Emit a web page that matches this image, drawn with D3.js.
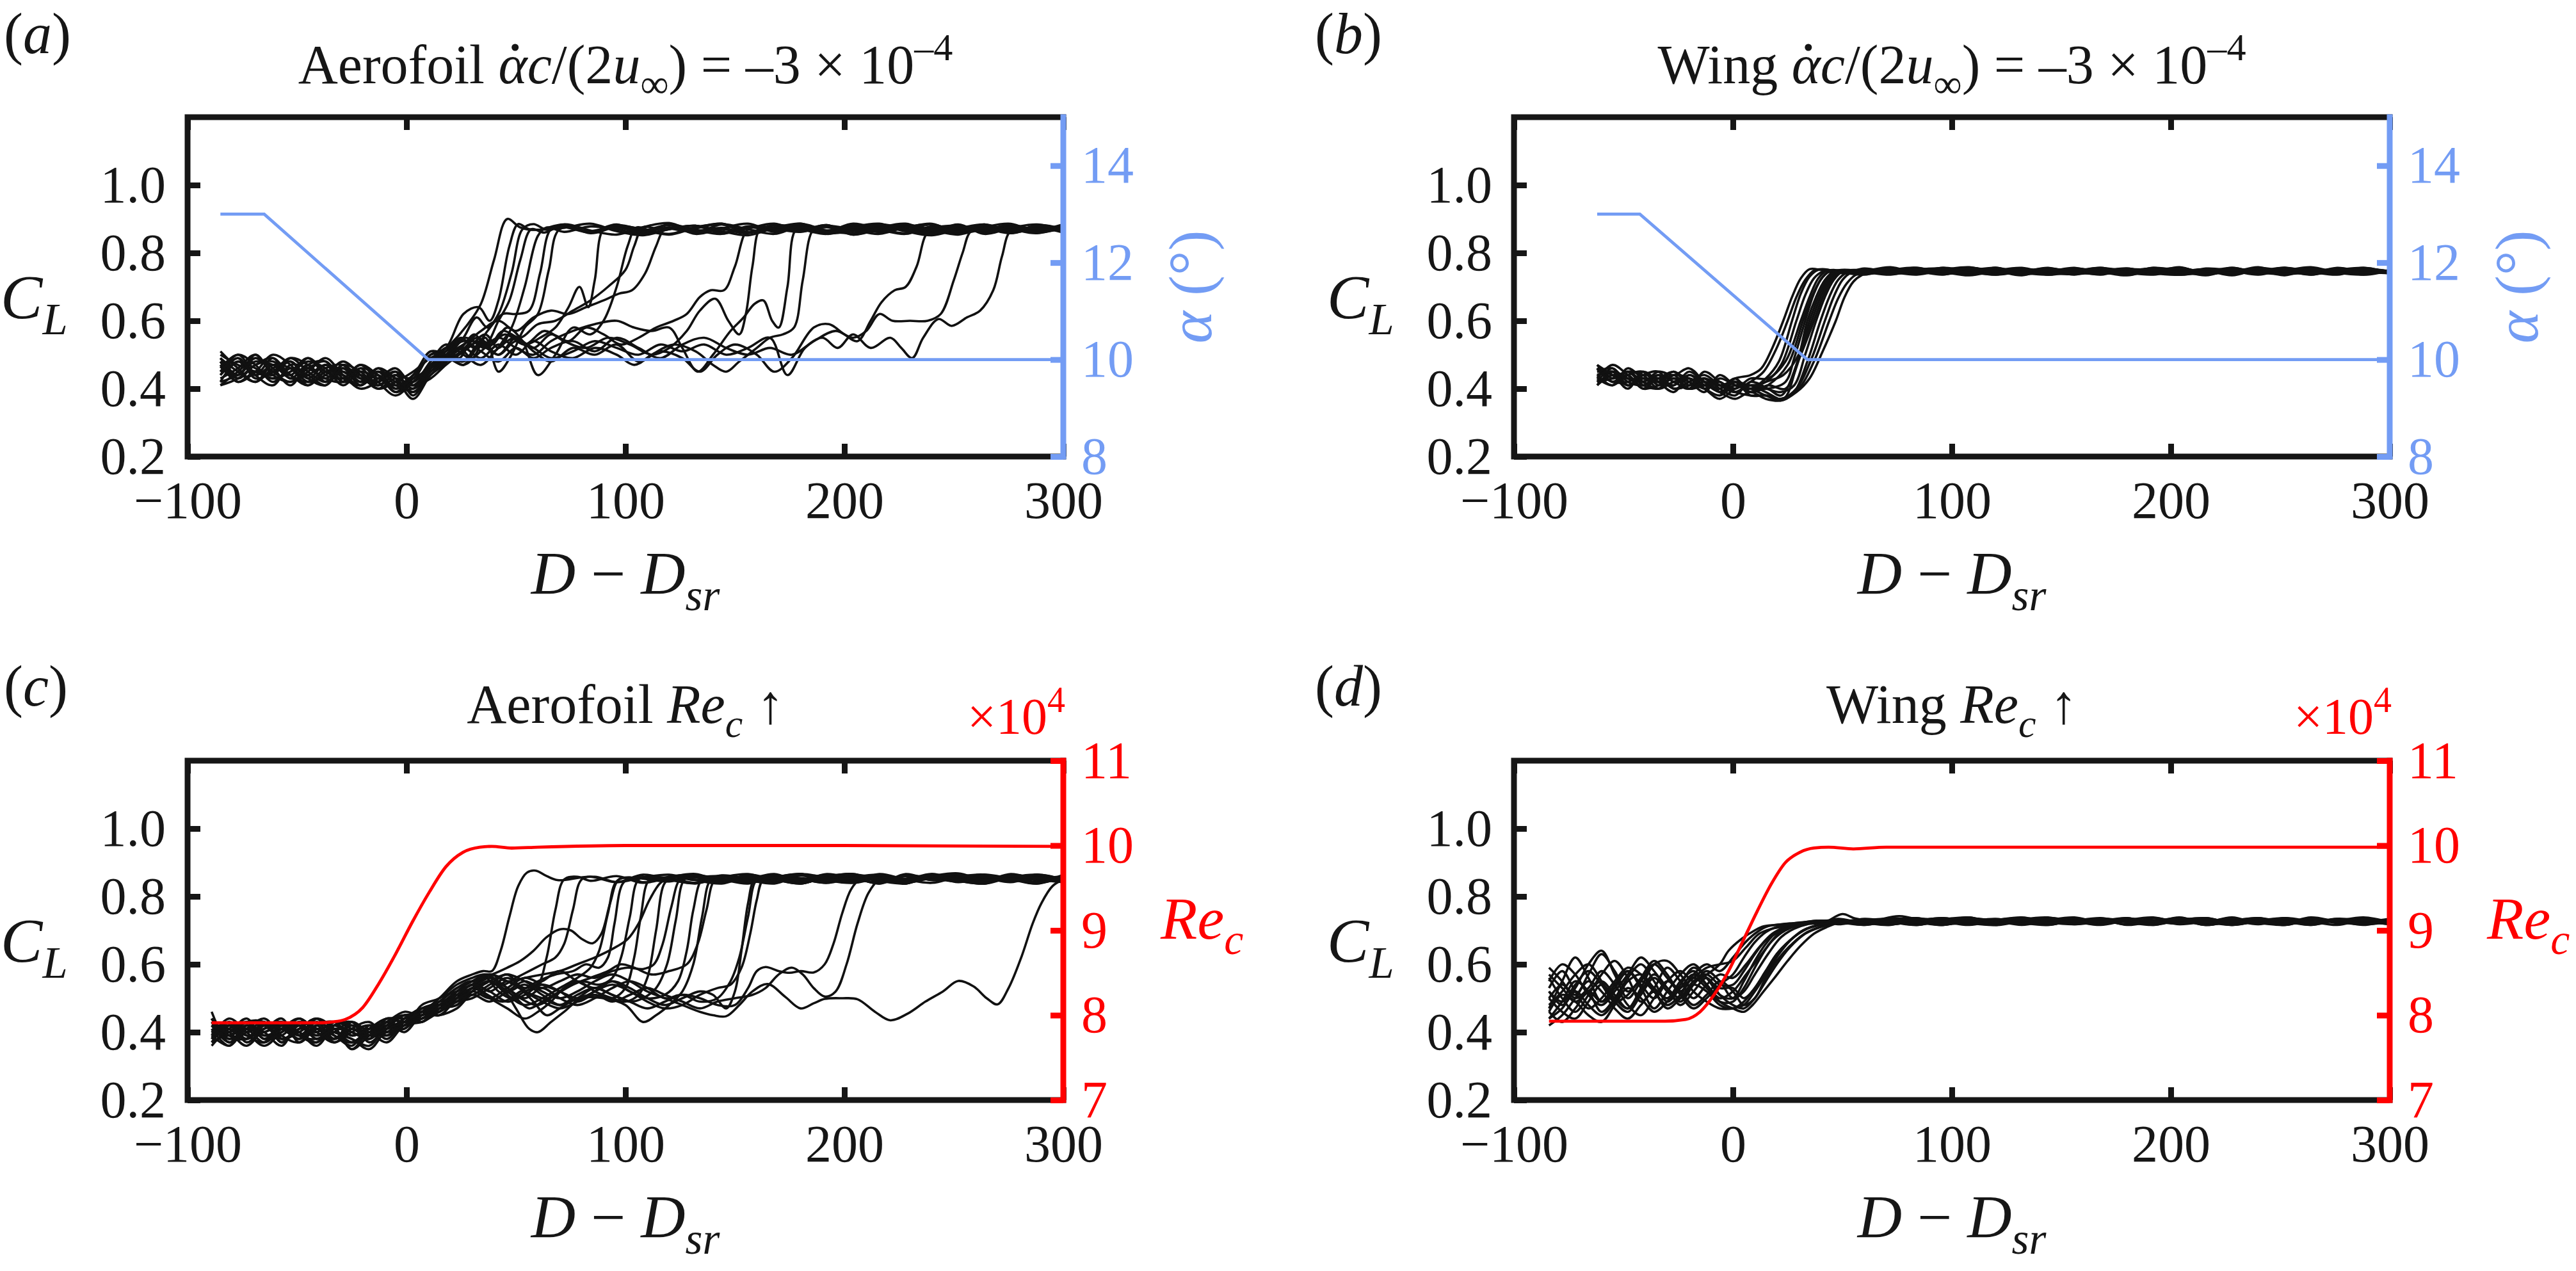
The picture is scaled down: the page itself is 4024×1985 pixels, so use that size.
<!DOCTYPE html>
<html>
<head>
<meta charset="utf-8">
<script src="https://cdn.jsdelivr.net/npm/d3@7"></script>
<style>
  body { margin: 0; background: #fff; }
  svg { display: block; }
</style>
</head>
<body>
<svg id="fig" width="4024" height="1985"></svg>
<script>
// ---- Axis ticks ----
const xTicks = [-100, 0, 100, 200, 300];
const clTicks = [0.2, 0.4, 0.6, 0.8, 1.0];
const alphaTicks = [8, 10, 12, 14];
const reTicks = [7, 8, 9, 10, 11];

// plateau sample positions (values per run are right-aligned to this list)
const platX = [12, 24, 36, 48, 60, 72, 84, 96, 108, 120, 132, 144, 156, 168, 180, 192, 204, 216, 228, 240, 252, 264, 276, 288, 300];

// ---- (a) Aerofoil, pitch-down : CL runs ----
const preXA = [-85, -77, -69, -61, -53, -45, -37, -29, -21, -13, -5, 3, 11];
const clAerofoilPitch = [
  {pre: [.49,.44,.50,.45,.48,.43,.47,.42,.46,.41,.44,.40,.48], rise: [[20,.53],[28,.59],[34,.65],[40,.78],[46,.90],[52,.875]],
   plat: [.868,.884,.858,.876,.866,.882,.856,.872,.886,.862,.874,.858,.88,.868,.856,.878,.864,.884,.86,.872,.866]},
  {pre: [.42,.48,.44,.49,.43,.47,.42,.46,.41,.45,.40,.43,.50], rise: [[18,.52],[26,.62],[33,.64],[38,.60],[42,.66],[47,.82],[51,.885],[56,.87]],
   plat: [.858,.874,.886,.864,.852,.87,.88,.86,.876,.866,.884,.856,.872,.862,.882,.868,.854,.876,.886,.862,.874]},
  {pre: [.51,.46,.42,.47,.44,.49,.45,.43,.47,.42,.38,.42,.46], rise: [[19,.50],[26,.55],[32,.61],[37,.58],[42,.62],[48,.74],[53,.87],[58,.885],[64,.868]],
   plat: [.878,.862,.884,.856,.87,.88,.864,.852,.874,.886,.866,.858,.878,.87,.862,.884,.856,.872,.868,.88]},
  {pre: [.45,.50,.47,.42,.46,.44,.41,.47,.43,.45,.42,.39,.45], rise: [[18,.49],[25,.52],[31,.56],[36,.53],[42,.60],[47,.66],[52,.78],[57,.87],[63,.86]],
   plat: [.884,.866,.854,.876,.888,.862,.87,.858,.882,.872,.86,.876,.884,.864,.852,.87,.88,.866,.874,.86]},
  {pre: [.41,.45,.49,.46,.41,.47,.48,.43,.41,.44,.39,.44,.49], rise: [[17,.48],[24,.50],[30,.53],[36,.56],[42,.52],[48,.58],[54,.70],[60,.85],[64,.875]],
   plat: [.862,.878,.87,.856,.884,.866,.874,.86,.882,.87,.856,.876,.886,.864,.872,.858,.88,.868,.862,.878]},
  {pre: [.47,.42,.45,.50,.47,.42,.44,.48,.44,.40,.43,.41,.47], rise: [[18,.51],[25,.55],[31,.52],[37,.57],[44,.62],[50,.62],[56,.63],[61,.74],[66,.87]],
   plat: [.876,.86,.882,.868,.854,.874,.886,.862,.87,.88,.858,.866,.884,.872,.856,.878,.864,.882,.868,.874]},
  {pre: [.44,.49,.43,.45,.49,.45,.42,.45,.42,.46,.43,.37,.44], rise: [[17,.47],[24,.52],[30,.49],[36,.55],[42,.45],[48,.50],[54,.58],[60,.62],[65,.75],[70,.87]],
   plat: [.864,.88,.87,.856,.876,.884,.86,.872,.866,.882,.854,.874,.886,.862,.87,.878,.858,.876,.866]},
  {pre: [.50,.47,.45,.43,.45,.48,.46,.41,.45,.43,.41,.44,.51], rise: [[18,.50],[26,.48],[33,.53],[40,.51],[47,.56],[54,.53],[61,.55],[68,.58],[74,.64],[79,.70],[83,.64],[86,.72],[90,.87],[96,.875]],
   plat: [.862,.884,.868,.856,.878,.87,.886,.86,.874,.864,.88,.856,.872,.884,.866,.876,.862]},
  {pre: [.43,.46,.50,.44,.42,.45,.49,.44,.40,.42,.45,.38,.46], rise: [[18,.52],[24,.49],[30,.54],[37,.52],[44,.57],[52,.55],[60,.59],[68,.60],[76,.63],[84,.66],[92,.70],[100,.75],[104,.82],[108,.875],[116,.87]],
   plat: [.88,.858,.872,.886,.864,.876,.854,.87,.882,.866,.878,.86,.874,.884,.868]},
  {pre: [.48,.43,.47,.48,.44,.41,.45,.46,.43,.41,.44,.40,.45], rise: [[18,.48],[25,.51],[32,.55],[39,.53],[46,.58],[53,.54],[60,.44],[68,.50],[76,.58],[84,.56],[90,.60],[96,.70],[101,.82],[105,.875],[112,.866]],
   plat: [.876,.86,.884,.87,.856,.878,.866,.882,.862,.874,.886,.858,.87,.88,.864,.876]},
  {pre: [.46,.50,.44,.41,.47,.46,.43,.42,.46,.44,.39,.42,.47], rise: [[18,.50],[26,.53],[34,.57],[42,.60],[50,.57],[58,.61],[66,.63],[74,.62],[82,.64],[90,.66],[97,.68],[103,.69],[109,.74],[114,.82],[118,.87],[126,.866]],
   plat: [.872,.886,.86,.876,.866,.882,.856,.874,.868,.884,.862,.878,.87,.858,.88]},
  {pre: [.42,.44,.48,.47,.43,.44,.47,.45,.42,.43,.46,.41,.43], rise: [[18,.47],[26,.51],[34,.54],[42,.50],[50,.55],[58,.52],[66,.56],[74,.54],[82,.58],[90,.56],[98,.53],[106,.55],[114,.58],[122,.60],[128,.62],[134,.67],[139,.69],[145,.69],[150,.76],[156,.87],[164,.874]],
   plat: [.862,.88,.868,.856,.876,.884,.864,.872,.858,.882,.87]},
  {pre: [.49,.45,.42,.46,.48,.43,.41,.46,.44,.40,.42,.45,.49], rise: [[18,.51],[27,.55],[36,.52],[45,.56],[54,.53],[63,.57],[72,.54],[82,.52],[92,.55],[102,.53],[112,.50],[120,.52],[128,.57],[134,.63],[141,.665],[147,.60],[152,.56],[155,.62],[158,.76],[162,.875],[170,.868]],
   plat: [.878,.864,.886,.87,.858,.874,.88,.862,.876,.868,.884]},
  {pre: [.44,.48,.46,.43,.45,.49,.44,.43,.47,.44,.40,.43,.46], rise: [[18,.49],[26,.47],[34,.51],[42,.55],[50,.52],[58,.50],[66,.54],[76,.57],[86,.59],[96,.60],[104,.58],[112,.57],[120,.58],[126,.52],[133,.45],[140,.50],[148,.57],[154,.61],[159,.65],[163,.66],[167,.60],[170,.58],[174,.70],[178,.87],[184,.872]],
   plat: [.86,.876,.866,.884,.858,.872,.88,.864,.874,.862]},
  {pre: [.41,.43,.47,.49,.44,.42,.46,.47,.42,.45,.43,.39,.44], rise: [[18,.48],[26,.52],[34,.49],[42,.53],[50,.50],[58,.54],[66,.51],[76,.49],[86,.52],[96,.50],[104,.47],[112,.50],[122,.53],[132,.51],[140,.47],[146,.45],[152,.48],[160,.52],[166,.55],[172,.56],[177,.58],[181,.72],[186,.87],[192,.876]],
   plat: [.864,.882,.87,.856,.878,.866,.884,.86,.874]},
  {pre: [.47,.44,.49,.45,.42,.46,.48,.42,.44,.42,.45,.42,.48], rise: [[18,.53],[26,.50],[34,.47],[42,.52],[50,.55],[58,.51],[66,.48],[76,.52],[86,.50],[96,.53],[106,.48],[116,.51],[126,.49],[134,.45],[142,.50],[150,.53],[160,.50],[168,.45],[176,.49],[186,.58],[193,.59],[200,.56],[206,.54],[212,.60],[217,.655],[223,.69],[228,.70],[233,.76],[238,.86],[244,.872]],
   plat: [.862,.88,.868,.876,.864]},
  {pre: [.45,.49,.44,.47,.46,.41,.45,.44,.41,.46,.41,.40,.46], rise: [[18,.50],[26,.54],[34,.51],[42,.48],[50,.52],[58,.49],[66,.52],[76,.54],[86,.51],[96,.55],[106,.52],[116,.49],[126,.53],[136,.55],[146,.52],[156,.50],[166,.52],[176,.50],[186,.54],[196,.57],[204,.55],[210,.57],[216,.62],[222,.60],[230,.60],[238,.60],[244,.62],[250,.72],[254,.80],[258,.865],[266,.872]],
   plat: [.864,.878,.868]},
  {pre: [.48,.42,.45,.44,.49,.47,.43,.47,.45,.41,.44,.43,.50], rise: [[18,.50],[26,.47],[34,.53],[42,.50],[50,.54],[58,.52],[66,.49],[76,.51],[86,.54],[96,.52],[106,.50],[116,.53],[126,.51],[136,.53],[146,.50],[156,.52],[166,.55],[174,.44],[182,.52],[190,.55],[197,.52],[204,.56],[212,.52],[221,.55],[226,.52],[231,.49],[236,.55],[243,.605],[249,.585],[256,.61],[262,.63],[268,.69],[272,.79],[276,.865],[284,.872]],
   plat: [.866]}
];
const alphaAerofoil = [[-85, 13], [-65, 13], [10, 10], [300, 10]];

// ---- (b) Wing, pitch-down : CL runs ----
const preXB = [-62, -55, -48, -41, -34, -27, -20, -13, -6, 1, 8];
const clWingPitch = [
  {pre: [.46,.42,.44,.40,.43,.41,.45,.42,.40,.43,.44], rise: [[13,.46],[18,.52],[23,.60],[27,.67],[31,.725],[35,.752],[40,.75],[46,.742]],
   plat: [.75,.738,.754,.744,.734,.748,.756,.74,.746,.736,.752,.744,.758,.738,.748,.742,.754,.736,.75,.744,.74]},
  {pre: [.42,.46,.41,.44,.45,.40,.42,.44,.41,.39,.42], rise: [[14,.45],[20,.52],[25,.60],[29,.67],[33,.72],[37,.748],[42,.752],[48,.744]],
   plat: [.736,.752,.742,.756,.738,.746,.734,.754,.744,.75,.738,.756,.742,.748,.734,.752,.746,.738,.756,.744,.748]},
  {pre: [.47,.43,.45,.42,.40,.44,.43,.40,.43,.41,.40], rise: [[15,.43],[21,.48],[27,.60],[31,.68],[35,.73],[39,.75],[44,.745],[52,.74]],
   plat: [.752,.744,.736,.75,.758,.742,.748,.738,.754,.744,.734,.75,.746,.738,.756,.742,.75,.744,.736,.752,.746]},
  {pre: [.44,.41,.46,.43,.42,.45,.41,.43,.39,.42,.41], rise: [[15,.42],[22,.47],[29,.60],[33,.675],[37,.725],[41,.745],[46,.75],[54,.742]],
   plat: [.746,.758,.74,.748,.736,.752,.744,.756,.738,.746,.754,.74,.736,.75,.744,.758,.738,.748,.742,.754,.74]},
  {pre: [.41,.45,.43,.41,.44,.42,.40,.45,.42,.40,.43], rise: [[16,.43],[24,.48],[31,.60],[35,.67],[39,.725],[43,.748],[48,.745]],
   plat: [.74,.75,.756,.738,.746,.742,.754,.736,.75,.744,.74,.756,.748,.734,.752,.746,.74,.754,.738,.75,.746]},
  {pre: [.45,.44,.40,.45,.42,.39,.44,.41,.40,.43,.39], rise: [[16,.41],[25,.47],[32,.60],[36,.67],[40,.72],[44,.745],[50,.748]],
   plat: [.744,.736,.75,.754,.74,.748,.738,.752,.746,.756,.742,.736,.75,.744,.754,.74,.748,.758,.742,.736,.75]},
  {pre: [.43,.47,.44,.40,.41,.43,.42,.39,.44,.41,.40], rise: [[16,.40],[24,.42],[28,.49],[33,.60],[37,.68],[41,.73],[45,.748],[52,.742]],
   plat: [.754,.742,.746,.736,.756,.744,.75,.74,.738,.752,.748,.742,.756,.738,.746,.75,.734,.754,.744,.748,.74]},
  {pre: [.46,.42,.42,.44,.43,.40,.41,.43,.40,.38,.42], rise: [[16,.40],[22,.38],[29,.47],[34,.60],[38,.67],[42,.72],[46,.745],[53,.75]],
   plat: [.738,.748,.756,.742,.75,.736,.746,.754,.744,.738,.752,.748,.736,.744,.756,.742,.748,.738,.754,.746,.742]},
  {pre: [.44,.45,.43,.42,.45,.44,.46,.42,.39,.41,.40], rise: [[15,.42],[23,.44],[30,.50],[35,.60],[39,.67],[43,.72],[47,.746],[55,.744]],
   plat: [.752,.74,.746,.756,.738,.744,.75,.736,.754,.748,.742,.756,.74,.746,.752,.738,.744,.75,.756,.742]},
  {pre: [.42,.43,.45,.41,.40,.42,.43,.40,.37,.40,.41], rise: [[15,.39],[23,.37],[30,.49],[36,.60],[40,.67],[44,.72],[48,.745],[56,.748]],
   plat: [.742,.754,.738,.748,.744,.752,.736,.746,.756,.74,.75,.744,.738,.754,.742,.748,.736,.752,.746,.74]},
  {pre: [.47,.44,.41,.43,.42,.41,.44,.42,.41,.42,.39], rise: [[16,.41],[24,.40],[31,.50],[37,.60],[41,.67],[45,.72],[49,.745],[57,.75]],
   plat: [.738,.746,.752,.742,.756,.74,.748,.738,.75,.744,.754,.736,.746,.752,.74,.756,.744,.738,.75,.746]},
  {pre: [.43,.41,.44,.45,.41,.43,.40,.41,.42,.39,.41], rise: [[15,.40],[22,.39],[28,.41],[33,.50],[38,.60],[42,.67],[46,.72],[50,.744],[58,.742]],
   plat: [.75,.74,.756,.746,.736,.752,.744,.74,.754,.738,.748,.756,.742,.746,.736,.75,.744,.754,.74,.748]},
  {pre: [.45,.46,.42,.41,.43,.45,.42,.40,.38,.41,.40], rise: [[15,.38],[22,.365],[28,.39],[34,.48],[40,.60],[44,.67],[48,.72],[52,.742],[60,.75]],
   plat: [.744,.752,.738,.748,.756,.742,.736,.75,.746,.754,.74,.744,.752,.738,.756,.746,.742,.75,.736,.748]},
  {pre: [.41,.44,.43,.42,.44,.40,.41,.43,.41,.39,.38], rise: [[15,.38],[22,.37],[29,.40],[36,.49],[42,.60],[46,.67],[50,.72],[54,.742],[62,.746]],
   plat: [.74,.748,.754,.742,.738,.752,.746,.756,.74,.744,.75,.736,.754,.748,.742,.738,.752,.744,.756,.742]},
  {pre: [.46,.42,.45,.44,.40,.42,.43,.41,.40,.42,.38], rise: [[15,.38],[22,.37],[30,.40],[37,.48],[44,.60],[48,.665],[52,.71],[56,.735],[62,.745]],
   plat: [.752,.744,.74,.756,.746,.738,.75,.742,.754,.736,.748,.744,.752,.74,.746,.756,.738,.75,.742,.748]},
  {pre: [.44,.45,.41,.43,.42,.44,.40,.42,.39,.37,.39], rise: [[15,.37],[22,.365],[29,.39],[35,.43],[41,.51],[47,.60],[51,.67],[55,.715],[59,.735],[64,.745]],
   plat: [.738,.75,.746,.742,.756,.736,.748,.752,.74,.746,.754,.742,.738,.75,.744,.756,.74,.748,.752,.744]}
];
const alphaWing = [[-62, 13], [-42.5, 13], [34, 10], [300, 10]];

// ---- (c) Aerofoil, Re increase : CL runs ----
const preXC = [-89, -81, -73, -65, -57, -49, -41, -33, -25, -17, -9, -1, 7, 15, 23];
const clAerofoilRe = [
  {pre: [.42,.37,.40,.43,.38,.41,.44,.39,.37,.41,.44,.43,.46,.50,.55], rise: [[30,.57],[35,.58],[39,.58],[43,.64],[47,.74],[51,.83],[55,.87],[59,.876],[64,.86],[69,.848]],
   plat: [.858,.842,.864,.85,.838,.856,.866,.846,.854,.84,.862,.852,.844,.86,.868,.848,.856,.84,.864]},
  {pre: [.38,.42,.39,.37,.42,.40,.37,.42,.40,.38,.42,.45,.43,.47,.50], rise: [[30,.53],[36,.56],[42,.52],[48,.50],[54,.52],[60,.54],[64,.62],[68,.76],[72,.85],[78,.858]],
   plat: [.846,.86,.84,.856,.866,.844,.852,.862,.838,.858,.848,.864,.842,.854,.86,.846,.866,.85,.842]},
  {pre: [.44,.39,.42,.40,.36,.43,.41,.38,.42,.39,.40,.44,.47,.46,.52], rise: [[30,.55],[37,.57],[44,.54],[50,.56],[56,.58],[62,.60],[68,.62],[72,.66],[76,.76],[80,.85],[86,.858]],
   plat: [.842,.856,.864,.848,.838,.858,.85,.866,.844,.854,.862,.84,.856,.848,.864,.852,.84,.858]},
  {pre: [.40,.43,.37,.41,.42,.38,.44,.41,.37,.40,.43,.46,.45,.49,.53], rise: [[30,.55],[39,.57],[46,.59],[52,.61],[58,.64],[64,.68],[70,.703],[75,.70],[80,.675],[85,.662],[89,.69],[93,.78],[97,.85],[104,.855]],
   plat: [.844,.862,.85,.838,.858,.846,.866,.852,.842,.86,.848,.856,.84,.864,.852,.846]},
  {pre: [.36,.41,.43,.39,.41,.42,.38,.40,.43,.37,.41,.42,.44,.47,.48], rise: [[30,.52],[38,.55],[46,.51],[54,.48],[62,.50],[70,.53],[78,.56],[84,.59],[88,.64],[92,.75],[96,.845],[102,.856]],
   plat: [.842,.858,.864,.846,.852,.84,.862,.85,.856,.838,.866,.848,.854,.842,.86,.85,.858]},
  {pre: [.43,.38,.41,.44,.39,.37,.42,.43,.39,.41,.39,.44,.46,.45,.50], rise: [[30,.54],[37,.51],[44,.49],[52,.52],[60,.55],[68,.57],[76,.58],[82,.60],[88,.59],[92,.62],[95,.72],[99,.84],[104,.856]],
   plat: [.848,.84,.862,.852,.844,.866,.854,.842,.858,.85,.864,.846,.838,.86,.852,.844]},
  {pre: [.39,.42,.38,.42,.43,.40,.36,.41,.35,.39,.42,.41,.47,.48,.49], rise: [[30,.53],[38,.50],[46,.47],[54,.44],[60,.46],[66,.49],[72,.53],[80,.55],[88,.54],[94,.56],[98,.62],[102,.74],[106,.85],[112,.858]],
   plat: [.846,.856,.842,.864,.85,.838,.858,.866,.844,.852,.86,.848,.84,.856,.862,.85]},
  {pre: [.41,.36,.42,.39,.40,.44,.40,.37,.40,.42,.38,.43,.44,.47,.51], rise: [[30,.51],[38,.54],[46,.57],[52,.53],[58,.49],[64,.45],[70,.47],[78,.50],[86,.51],[94,.50],[100,.53],[104,.62],[107,.74],[111,.85],[118,.856]],
   plat: [.84,.858,.852,.866,.842,.854,.86,.846,.838,.862,.85,.856,.844,.864,.848]},
  {pre: [.37,.40,.44,.38,.42,.39,.43,.40,.38,.35,.41,.45,.45,.48,.52], rise: [[30,.54],[38,.57],[46,.55],[54,.56],[62,.57],[70,.58],[78,.60],[86,.62],[94,.645],[101,.674],[106,.72],[111,.79],[116,.84],[120,.852]],
   plat: [.862,.846,.856,.84,.864,.852,.844,.858,.838,.866,.848,.854,.842,.86,.85]},
  {pre: [.42,.41,.38,.43,.37,.41,.40,.43,.41,.40,.37,.42,.43,.46,.49], rise: [[30,.52],[37,.55],[44,.53],[50,.50],[56,.47],[62,.49],[70,.52],[78,.55],[86,.52],[94,.50],[100,.49],[106,.51],[110,.56],[114,.70],[118,.84],[122,.856]],
   plat: [.848,.86,.842,.856,.866,.846,.852,.84,.862,.854,.844,.858,.85,.838,.864]},
  {pre: [.39,.44,.40,.36,.40,.43,.38,.42,.43,.39,.43,.40,.45,.45,.47], rise: [[30,.51],[38,.49],[46,.52],[54,.55],[62,.53],[70,.55],[78,.57],[86,.56],[94,.58],[101,.59],[108,.586],[113,.60],[117,.66],[121,.77],[125,.85],[130,.856]],
   plat: [.846,.862,.85,.838,.858,.866,.844,.852,.86,.842,.856,.848,.864,.85]},
  {pre: [.44,.38,.41,.41,.44,.37,.41,.39,.36,.42,.41,.44,.47,.49,.53], rise: [[30,.55],[38,.52],[46,.55],[54,.52],[62,.50],[70,.48],[78,.51],[86,.53],[94,.51],[102,.49],[108,.50],[114,.53],[119,.60],[123,.73],[127,.85],[132,.855]],
   plat: [.86,.844,.856,.866,.848,.84,.858,.852,.862,.846,.838,.856,.864,.844]},
  {pre: [.40,.39,.43,.43,.38,.40,.43,.38,.41,.38,.44,.43,.44,.46,.49], rise: [[30,.50],[38,.53],[46,.56],[54,.53],[62,.55],[70,.58],[78,.55],[86,.53],[94,.55],[102,.52],[110,.50],[118,.51],[124,.55],[128,.64],[131,.76],[135,.85],[140,.856]],
   plat: [.842,.858,.85,.864,.846,.856,.838,.862,.852,.844,.86,.848,.856]},
  {pre: [.37,.42,.39,.40,.42,.42,.39,.41,.35,.40,.40,.41,.45,.48,.50], rise: [[30,.53],[38,.56],[44,.53],[50,.47],[56,.41],[60,.40],[66,.43],[72,.46],[80,.50],[90,.50],[100,.48],[108,.43],[114,.45],[120,.48],[126,.52],[131,.60],[135,.74],[139,.85],[144,.858]],
   plat: [.848,.838,.862,.854,.844,.866,.85,.84,.858,.864,.846,.852,.86]},
  {pre: [.43,.40,.36,.41,.43,.39,.37,.43,.42,.41,.43,.42,.48,.50,.54], rise: [[30,.56],[36,.57],[44,.54],[52,.50],[60,.48],[68,.51],[76,.54],[84,.56],[92,.58],[98,.60],[104,.59],[112,.57],[120,.58],[128,.60],[133,.66],[137,.76],[141,.85],[148,.856]],
   plat: [.844,.86,.852,.84,.856,.864,.846,.858,.85,.838,.862,.854,.846]},
  {pre: [.46,.37,.42,.38,.39,.43,.41,.40,.38,.36,.42,.45,.44,.47,.48], rise: [[30,.52],[38,.50],[46,.53],[54,.56],[62,.54],[70,.52],[78,.50],[86,.52],[94,.55],[102,.53],[110,.50],[118,.48],[126,.50],[134,.52],[140,.51],[146,.47],[150,.52],[153,.64],[156,.78],[159,.85],[164,.856]],
   plat: [.846,.862,.84,.856,.85,.866,.844,.858,.852,.838,.86]},
  {pre: [.38,.43,.40,.42,.41,.38,.42,.37,.41,.43,.39,.43,.46,.46,.51], rise: [[30,.53],[38,.56],[46,.53],[54,.50],[62,.53],[70,.50],[78,.48],[86,.50],[94,.53],[102,.55],[110,.53],[118,.50],[126,.51],[134,.49],[142,.50],[148,.55],[152,.62],[156,.74],[160,.85],[166,.858]],
   plat: [.85,.842,.864,.852,.84,.858,.846,.862,.848,.856,.844]},
  {pre: [.44,.39,.38,.43,.37,.42,.39,.42,.39,.41,.44,.44,.45,.50,.52], rise: [[30,.54],[38,.57],[46,.55],[54,.52],[62,.49],[70,.47],[78,.49],[86,.52],[94,.54],[102,.52],[110,.49],[118,.47],[126,.48],[134,.51],[142,.53],[148,.54],[153,.59],[157,.69],[160,.79],[163,.85],[170,.856]],
   plat: [.862,.848,.854,.838,.86,.85,.866,.844,.856,.842,.858]},
  {pre: [.40,.42,.41,.37,.41,.44,.40,.38,.43,.40,.40,.42,.46,.47,.50], rise: [[30,.52],[38,.55],[46,.52],[54,.54],[62,.51],[70,.48],[78,.50],[86,.53],[94,.51],[102,.49],[110,.47],[118,.49],[126,.51],[134,.50],[142,.48],[150,.48],[156,.53],[160,.58],[164,.592],[170,.58],[175,.575],[180,.58],[186,.576],[191,.60],[195,.66],[199,.75],[203,.82],[207,.85],[214,.856]],
   plat: [.846,.862,.85,.84,.858,.854,.848]},
  {pre: [.39,.36,.41,.40,.43,.39,.38,.41,.40,.38,.43,.45,.43,.48,.51], rise: [[30,.54],[38,.52],[46,.49],[54,.51],[62,.54],[70,.52],[78,.49],[86,.51],[94,.49],[102,.51],[110,.53],[118,.51],[126,.49],[134,.47],[142,.49],[150,.50],[158,.51],[164,.53],[170,.57],[176,.59],[181,.57],[186,.53],[191,.505],[196,.52],[201,.60],[206,.72],[211,.81],[216,.85],[222,.856]],
   plat: [.842,.858,.864,.848,.852,.84,.856]},
  {pre: [.42,.40,.43,.42,.38,.41,.44,.39,.37,.39,.41,.43,.46,.49,.50], rise: [[30,.52],[38,.55],[46,.57],[54,.55],[62,.52],[70,.50],[78,.52],[86,.55],[94,.57],[102,.55],[110,.52],[118,.50],[126,.48],[134,.46],[140,.45],[146,.447],[152,.48],[158,.52],[165,.542],[173,.504],[180,.47],[186,.485],[191,.498],[199,.50],[206,.497],[214,.46],[221,.435],[229,.455],[237,.49],[245,.52],[252,.551],[259,.535],[265,.50],[270,.482],[275,.53],[281,.624],[286,.72],[290,.78],[295,.83],[300,.85]],
   plat: []}
];
const reAerofoil = [[-89,7.91],[-40,7.91],[-34,7.92],[-28,7.95],[-20,8.09],[-12.7,8.37],[-5,8.72],[2.7,9.1],[10.4,9.45],[18,9.75],[25.8,9.92],[33.5,9.98],[39,9.99],[48,9.97],[60,9.98],[100,10.0],[200,10.0],[300,9.99]];

// ---- (d) Wing, Re increase : CL runs ----
const preXD = [-84, -78, -72, -66, -60, -54, -48, -42, -36, -30, -24, -18, -12, -6];
const clWingRe = [
  {pre: [.47,.55,.62,.56,.49,.53,.58,.54,.50,.55,.58,.55,.57,.60], rise: [[-2,.64],[4,.675],[10,.70],[14,.712],[20,.716],[26,.72],[32,.724],[40,.728]],
   plat: [.724,.732,.718,.728,.736,.722,.716,.73,.726,.734,.72,.728,.716,.732,.724,.738,.72,.728,.722,.734,.718,.726]},
  {pre: [.52,.48,.53,.60,.64,.57,.50,.55,.60,.56,.52,.57,.60,.58], rise: [[0,.62],[5,.66],[10,.69],[15,.71],[22,.718],[30,.722],[38,.726]],
   plat: [.73,.72,.736,.726,.716,.73,.722,.734,.718,.728,.736,.724,.73,.718,.726,.734,.722,.716,.73,.726,.736,.72]},
  {pre: [.56,.50,.46,.51,.57,.61,.56,.49,.53,.59,.55,.50,.54,.57], rise: [[0,.56],[6,.60],[12,.65],[18,.69],[24,.71],[30,.72],[38,.728]],
   plat: [.72,.734,.726,.716,.732,.738,.722,.728,.716,.73,.724,.736,.72,.728,.734,.718,.726,.732,.72,.728,.738,.724]},
  {pre: [.44,.49,.55,.52,.46,.50,.56,.60,.55,.49,.53,.57,.54,.50], rise: [[0,.52],[6,.57],[12,.62],[18,.67],[24,.70],[30,.715],[38,.725]],
   plat: [.728,.716,.73,.736,.722,.726,.718,.734,.728,.72,.732,.716,.726,.736,.724,.73,.718,.734,.722,.728,.716,.732]},
  {pre: [.50,.46,.44,.49,.54,.50,.47,.52,.57,.53,.48,.52,.56,.51], rise: [[0,.48],[5,.47],[10,.50],[15,.55],[20,.60],[26,.65],[33,.69],[40,.71],[46,.72],[54,.728]],
   plat: [.72,.73,.736,.718,.726,.734,.722,.716,.73,.728,.736,.72,.732,.724,.716,.728,.734,.72,.73,.726,.718]},
  {pre: [.59,.55,.50,.53,.58,.54,.48,.45,.50,.55,.52,.48,.51,.55], rise: [[0,.52],[5,.48],[10,.50],[15,.56],[20,.61],[27,.66],[34,.695],[41,.712],[47,.722],[55,.726]],
   plat: [.734,.72,.726,.738,.716,.728,.732,.722,.73,.718,.736,.724,.728,.716,.732,.726,.72,.734,.728,.722]},
  {pre: [.48,.52,.57,.60,.55,.49,.46,.51,.56,.52,.49,.54,.58,.55], rise: [[0,.50],[5,.52],[10,.57],[16,.63],[22,.68],[28,.705],[34,.718],[42,.724],[50,.748],[56,.735]],
   plat: [.722,.73,.716,.734,.726,.72,.736,.728,.718,.732,.724,.738,.72,.73,.726,.716,.734,.722,.728,.73]},
  {pre: [.53,.58,.52,.47,.50,.55,.59,.57,.52,.48,.51,.56,.53,.49], rise: [[0,.49],[5,.53],[10,.59],[15,.645],[20,.685],[26,.71],[32,.72],[40,.726],[50,.72],[64,.728],[76,.742],[88,.726]],
   plat: [.72,.734,.728,.716,.73,.738,.722,.726,.718,.732,.724,.736,.72,.728,.716,.73,.726,.734]},
  {pre: [.46,.51,.49,.45,.43,.48,.53,.50,.46,.49,.54,.59,.56,.51], rise: [[0,.50],[5,.55],[10,.61],[15,.66],[20,.695],[26,.712],[33,.72],[42,.726]],
   plat: [.722,.732,.718,.728,.736,.724,.716,.73,.726,.72,.734,.728,.718,.73,.736,.722,.726,.716,.732,.728,.72,.734]},
  {pre: [.57,.53,.49,.52,.55,.51,.47,.53,.60,.61,.57,.52,.49,.47], rise: [[0,.47],[5,.48],[10,.52],[15,.57],[21,.63],[27,.675],[34,.705],[41,.718],[48,.726]],
   plat: [.72,.732,.724,.716,.734,.728,.72,.736,.726,.718,.73,.724,.734,.716,.728,.732,.722,.738,.726,.72,.73]},
  {pre: [.42,.45,.50,.55,.52,.47,.44,.48,.52,.50,.53,.56,.59,.60], rise: [[0,.61],[6,.65],[12,.69],[18,.705],[24,.712],[30,.718],[38,.724]],
   plat: [.73,.722,.716,.734,.728,.72,.73,.738,.724,.718,.728,.734,.722,.73,.716,.726,.736,.72,.732,.724,.718,.73]},
  {pre: [.55,.60,.57,.51,.48,.52,.57,.62,.58,.53,.50,.54,.52,.48], rise: [[0,.47],[5,.49],[10,.53],[15,.58],[20,.63],[26,.67],[32,.70],[39,.715],[46,.722],[55,.728]],
   plat: [.724,.716,.73,.736,.72,.728,.732,.718,.726,.734,.722,.73,.716,.728,.736,.724,.72,.732,.726,.718]},
  {pre: [.50,.54,.51,.57,.63,.58,.52,.55,.52,.47,.50,.55,.57,.54], rise: [[0,.54],[5,.58],[10,.63],[15,.67],[21,.695],[27,.71],[34,.72],[42,.725]],
   plat: [.734,.722,.728,.716,.73,.736,.724,.72,.732,.726,.716,.73,.738,.722,.728,.72,.734,.726,.716,.73,.724,.732]},
  {pre: [.46,.43,.47,.52,.49,.54,.58,.53,.47,.52,.57,.60,.56,.53], rise: [[0,.53],[5,.50],[10,.53],[15,.58],[20,.63],[26,.67],[32,.70],[39,.716],[46,.724]],
   plat: [.716,.728,.734,.722,.73,.718,.736,.726,.72,.732,.724,.716,.73,.736,.722,.728,.718,.734,.726,.73,.72]},
  {pre: [.52,.49,.54,.58,.54,.49,.51,.56,.61,.57,.51,.47,.50,.54], rise: [[0,.57],[5,.62],[10,.665],[15,.695],[20,.71],[26,.716],[33,.722],[41,.728]],
   plat: [.718,.73,.724,.734,.72,.728,.716,.732,.738,.722,.726,.73,.718,.734,.724,.728,.72,.736,.726,.716,.73,.724]},
  {pre: [.44,.47,.52,.48,.45,.49,.55,.57,.53,.50,.55,.58,.54,.49], rise: [[0,.47],[5,.46],[9,.48],[14,.52],[19,.56],[25,.61],[31,.655],[37,.69],[43,.71],[48,.722],[56,.73]],
   plat: [.72,.732,.726,.716,.73,.736,.722,.728,.718,.734,.726,.72,.732,.716,.728,.736,.724,.73,.72,.728]}
];
const reWing = [[-84,7.93],[-31,7.93],[-21.6,7.95],[-15,8.04],[-8.6,8.24],[-2,8.52],[4.5,8.87],[11,9.22],[17.6,9.55],[24,9.8],[30.6,9.92],[37,9.97],[43.7,9.98],[55,9.96],[70,9.98],[150,9.98],[300,9.98]];

// ---- Layout / style ----
const SERIF = '"Liberation Serif", "Times New Roman", Times, serif';
const INK = '#161616';
const BLUE = '#739cf4';
const RED = '#ff0000';
const W = 1368, H = 530;

const panels = [
  {tag: 'a', left: 293, top: 183, labelX: 6, labelY: 83, titleY: 130, kind: 'alpha', body: 'Aerofoil', preX: preXA, runs: clAerofoilPitch, side: alphaAerofoil},
  {tag: 'b', left: 2365, top: 183, labelX: 2054, labelY: 83, titleY: 130, kind: 'alpha', body: 'Wing', preX: preXB, runs: clWingPitch, side: alphaWing},
  {tag: 'c', left: 293, top: 1188, labelX: 6, labelY: 1102, titleY: 1129, kind: 're', body: 'Aerofoil', preX: preXC, runs: clAerofoilRe, side: reAerofoil},
  {tag: 'd', left: 2365, top: 1188, labelX: 2054, labelY: 1102, titleY: 1129, kind: 're', body: 'Wing', preX: preXD, runs: clWingRe, side: reWing}
];

// pre-band values + transition points + plateau samples
function runPoints(r, preX) {
  const pts = preX.map((px, i) => [px, r.pre[i]]).concat(r.rise);
  const lastX = pts[pts.length - 1][0];
  const gx = platX.slice(Math.max(0, platX.length - r.plat.length));
  const vals = r.plat.slice(r.plat.length - gx.length);
  gx.forEach((px, i) => { if (px > lastX + 5) pts.push([px, vals[i]]); });
  return pts;
}

// text with italic / sub / sup pieces
function rich(sel, parts, size) {
  let shift = 0;
  parts.forEach(([t, st]) => {
    let target = 0, fs = size;
    if (st.includes('sub')) { target = size * 0.26; fs = size * 0.72; }
    if (st.includes('sup')) { target = -size * 0.42; fs = size * 0.7; }
    const ts = sel.append('tspan').text(t).attr('font-size', fs);
    if (target - shift !== 0) ts.attr('dy', target - shift);
    if (st.includes('i')) ts.attr('font-style', 'italic');
    shift = target;
  });
}

const svg = d3.select('#fig');
svg.append('rect').attr('width', 4024).attr('height', 1985).attr('fill', '#fff');

panels.forEach(p => {
  const isAlpha = p.kind === 'alpha';
  const col = isAlpha ? BLUE : RED;

  const x = d3.scaleLinear().domain([-100, 300]).range([0, W]);
  const y = d3.scaleLinear().domain([0.2, 1.2]).range([H, 0]);
  const yr = d3.scaleLinear().domain(isAlpha ? [8, 15] : [7, 11]).range([H, 0]);

  const g = svg.append('g').attr('transform', `translate(${p.left},${p.top})`);

  g.append('clipPath').attr('id', 'clip-' + p.tag)
    .append('rect').attr('width', W).attr('height', H);
  const plot = g.append('g').attr('clip-path', `url(#clip-${p.tag})`);

  const line = d3.line()
    .x(d => x(d[0])).y(d => y(d[1]))
    .curve(d3.curveCatmullRom.alpha(0.5));

  p.runs.forEach(r => {
    plot.append('path')
      .attr('d', line(runPoints(r, p.preX)))
      .attr('fill', 'none')
      .attr('stroke', '#111')
      .attr('stroke-width', 3.6)
      .attr('stroke-linejoin', 'round');
  });

  const sideLine = d3.line()
    .x(d => x(d[0])).y(d => yr(d[1]))
    .curve(isAlpha ? d3.curveLinear : d3.curveMonotoneX);
  plot.append('path')
    .attr('d', sideLine(p.side))
    .attr('fill', 'none')
    .attr('stroke', col)
    .attr('stroke-width', 4.8);

  // frame: left, top, bottom in black
  const [x0, x1] = x.range();
  const [yb, yt] = y.range();
  g.append('path')
    .attr('d', `M${x1},${yt}H${x0}V${yb}H${x1}`)
    .attr('fill', 'none')
    .attr('stroke', INK)
    .attr('stroke-width', 9)
    .attr('stroke-linecap', 'square');

  const styleAxis = (a, c, fs) => {
    a.attr('font-family', SERIF).attr('font-size', fs).attr('color', c);
    a.select('.domain').remove();
    a.selectAll('.tick line').attr('stroke-width', 9);
  };

  const fmtX = d => d < 0 ? '\u2212' + Math.abs(d) : String(d);
  const bottom = g.append('g').attr('transform', `translate(0,${yb})`)
    .call(d3.axisBottom(x).tickValues(xTicks).tickSizeInner(-20).tickSizeOuter(0).tickPadding(38).tickFormat(fmtX));
  styleAxis(bottom, INK, 82);

  const topAx = g.append('g').attr('transform', `translate(0,${yt})`)
    .call(d3.axisTop(x).tickValues(xTicks).tickSizeInner(-20).tickSizeOuter(0).tickFormat(''));
  styleAxis(topAx, INK, 82);

  const leftAx = g.append('g')
    .call(d3.axisLeft(y).tickValues(clTicks).tickSizeInner(-20).tickSizeOuter(0).tickPadding(34).tickFormat(d3.format('.1f')));
  styleAxis(leftAx, INK, 82);

  // right axis in series colour
  g.append('line')
    .attr('x1', x1).attr('x2', x1).attr('y1', yt - 4.5).attr('y2', yb + 4.5)
    .attr('stroke', col).attr('stroke-width', 9);
  const rightAx = g.append('g').attr('transform', `translate(${x1},0)`)
    .call(d3.axisRight(yr).tickValues(isAlpha ? alphaTicks : reTicks).tickSizeInner(-20).tickSizeOuter(0).tickPadding(28).tickFormat(d => d));
  styleAxis(rightAx, col, 82);

  // axis titles
  const cl = g.append('text').attr('x', -292).attr('y', 314)
    .attr('font-family', SERIF).attr('fill', INK);
  rich(cl, [['C', 'i'], ['L', 'i sub']], 98);

  const xl = g.append('text').attr('x', W / 2).attr('y', H + 215)
    .attr('text-anchor', 'middle').attr('font-family', SERIF).attr('fill', INK);
  rich(xl, [['D', 'i'], [' \u2212 ', ''], ['D', 'i'], ['sr', 'i sub']], 96);

  if (isAlpha) {
    const al = g.append('text')
      .attr('transform', `translate(${W + 198},${H / 2}) rotate(-90)`)
      .attr('text-anchor', 'middle').attr('dominant-baseline', 'central')
      .attr('font-family', SERIF).attr('fill', col);
    rich(al, [['\u03b1', 'i'], [' (\u00b0)', '']], 96);
  } else {
    const rl = g.append('text').attr('x', W + 152).attr('y', H / 2 + 13)
      .attr('font-family', SERIF).attr('fill', col);
    rich(rl, [['Re', 'i'], ['c', 'i sub']], 94);
    const mult = g.append('text').attr('x', W + 3).attr('y', -42)
      .attr('text-anchor', 'end').attr('font-family', SERIF).attr('fill', col);
    rich(mult, [['\u00d710', ''], ['4', 'sup']], 80);
  }

  // panel title
  const ty = p.titleY - p.top;
  const tt = g.append('text').attr('x', W / 2).attr('y', ty)
    .attr('text-anchor', 'middle').attr('font-family', SERIF).attr('fill', INK);
  if (isAlpha) {
    rich(tt, [[p.body + ' ', ''], ['\u03b1', 'i'], ['c', 'i'], ['/(2', ''], ['u', 'i'], ['\u221e', 'sub'], [') = \u20133 \u00d7 10', ''], ['\u20134', 'sup']], 86);
    // dot over alpha (time derivative)
    const ext = tt.node().getExtentOfChar(p.body.length + 1);
    g.append('circle')
      .attr('cx', ext.x + ext.width * 0.58)
      .attr('cy', ty - 56)
      .attr('r', 5.5)
      .attr('fill', INK);
  } else {
    rich(tt, [[p.body + ' ', ''], ['Re', 'i'], ['c', 'i sub'], [' \u2191', '']], 86);
  }

  // panel letter
  const lab = svg.append('text').attr('x', p.labelX).attr('y', p.labelY)
    .attr('font-family', SERIF).attr('fill', INK);
  rich(lab, [['(', ''], [p.tag, 'i'], [')', '']], 90);
});
</script>
</body>
</html>
